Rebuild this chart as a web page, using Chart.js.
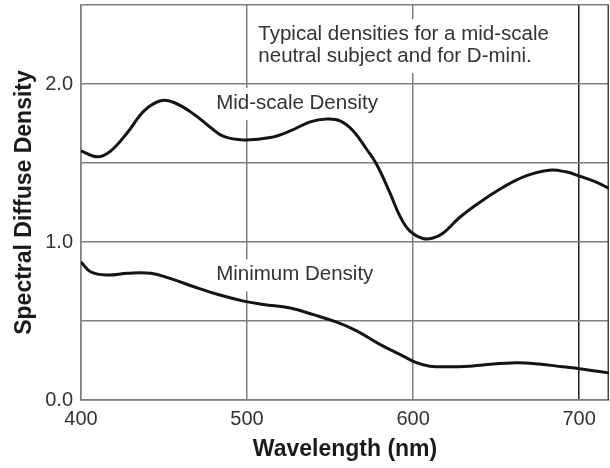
<!DOCTYPE html>
<html><head><meta charset="utf-8">
<script src="https://cdn.jsdelivr.net/npm/chart.js@4"></script>
<style>html,body{margin:0;padding:0;background:#fff}#wrap{width:610px;height:468px}</style>
</head><body><div id="wrap"><canvas id="c" width="610" height="468"></canvas></div>
<script>
// ---- data ----
const midWavelength = [400,410,418,428,438,448,456,468,478,486,498,514,526,538,548,556,564,572,578,586,592,598,606,612,618,628,640,654,668,682,692,700,710,719];
const midDensity    = [1.577,1.539,1.577,1.693,1.830,1.894,1.883,1.809,1.725,1.668,1.646,1.661,1.703,1.760,1.778,1.767,1.703,1.587,1.492,1.313,1.165,1.070,1.022,1.025,1.055,1.155,1.250,1.345,1.418,1.454,1.444,1.418,1.380,1.334];
const minWavelength = [400,406,416,428,442,454,468,482,498,510,526,540,554,566,580,594,602,610,622,634,642,662,676,690,700,719];
const minDensity    = [0.873,0.810,0.791,0.802,0.802,0.768,0.717,0.669,0.626,0.605,0.582,0.540,0.493,0.438,0.352,0.278,0.236,0.214,0.210,0.214,0.222,0.236,0.228,0.210,0.198,0.170];
const xTickValues = [400,500,600,700];
const yTickLabels = {0:'0.0',1:'1.0',2:'2.0'};
const xTitle = 'Wavelength (nm)';
const yTitle = 'Spectral Diffuse Density';
const notes = [
  {lines:['Typical densities for a mid-scale','neutral subject and for D-mini.'], x:506.8, y:2.316},
  {lines:['Mid-scale Density'], x:481.4, y:1.879},
  {lines:['Minimum Density'], x:481.4, y:0.795}
];

const FONT = "'Liberation Sans', Arial, Helvetica, sans-serif";
const GRID = '#7e7e7e';
const TEXT = '#333';

const notesPlugin = {
  id: 'notes',
  beforeDatasetsDraw(chart) {
    const {ctx, chartArea, scales} = chart;
    ctx.save();
    ctx.font = '20.5px ' + FONT;
    ctx.textBaseline = 'middle';
    ctx.textAlign = 'left';
    const lh = 22;
    notes.forEach(n => {
      const px = scales.x.getPixelForValue(n.x);
      const py = scales.y.getPixelForValue(n.y);
      const w = Math.max(...n.lines.map(l => ctx.measureText(l).width));
      ctx.fillStyle = '#fff';
      ctx.fillRect(px - 4, py - 15, w + 8, (n.lines.length - 1) * lh + 32);
      ctx.fillStyle = TEXT;
      n.lines.forEach((l, i) => ctx.fillText(l, px, py + i * lh));
    });
    // right frame edge
    ctx.strokeStyle = '#444';
    ctx.lineWidth = 1.5;
    ctx.beginPath();
    ctx.moveTo(chartArea.right - 0.75, chartArea.top);
    ctx.lineTo(chartArea.right - 0.75, chartArea.bottom);
    ctx.stroke();
    ctx.restore();
  }
};

const toPoints = (xs, ys) => xs.map((x, i) => ({x, y: ys[i]}));

new Chart(document.getElementById('c'), {
  type: 'line',
  data: {
    datasets: [
      {label: 'Mid-scale Density', data: toPoints(midWavelength, midDensity)},
      {label: 'Minimum Density', data: toPoints(minWavelength, minDensity)}
    ]
  },
  options: {
    responsive: false,
    devicePixelRatio: 1,
    animation: false,
    events: [],
    layout: {padding: {top: 5, right: 1, left: 0, bottom: 0}},
    elements: {
      line: {borderColor: '#141414', borderWidth: 3, tension: 0.4, fill: false, capBezierPoints: true},
      point: {radius: 0}
    },
    plugins: {legend: {display: false}, tooltip: {enabled: false}},
    scales: {
      x: {
        type: 'linear', min: 400, max: 718,
        afterBuildTicks: s => { s.ticks = xTickValues.map(v => ({value: v})); },
        afterFit: s => { s.height = 68; s.paddingLeft = 0; s.paddingRight = 0; },
        ticks: {color: TEXT, font: {family: FONT, size: 20}, padding: 7, maxRotation: 0, autoSkip: false, callback: v => String(v)},
        grid: {drawTicks: false, lineWidth: 1.5, color: c => (c.tick && c.tick.value === 700) ? '#1e1e1e' : GRID},
        border: {color: GRID, width: 1.5},
        title: {display: true, text: xTitle, color: '#1a1a1a', font: {family: FONT, size: 23, weight: 'bold'}, padding: {top: 0, bottom: 5}}
      },
      y: {
        min: 0, max: 2.5,
        afterBuildTicks: s => { s.ticks = [0,0.5,1,1.5,2,2.5].map(v => ({value: v})); },
        afterFit: s => { s.width = 81; s.paddingTop = 0; s.paddingBottom = 0; },
        ticks: {color: TEXT, font: {family: FONT, size: 20}, padding: 8, autoSkip: false, callback: v => (yTickLabels[v] !== undefined ? yTickLabels[v] : '')},
        grid: {drawTicks: false, lineWidth: 1.5, color: GRID},
        border: {color: GRID, width: 1.5},
        title: {display: true, text: yTitle, color: '#1a1a1a', font: {family: FONT, size: 23, weight: 'bold'}, padding: {top: 11, bottom: 0}}
      }
    }
  },
  plugins: [notesPlugin]
});
</script>
</body></html>
